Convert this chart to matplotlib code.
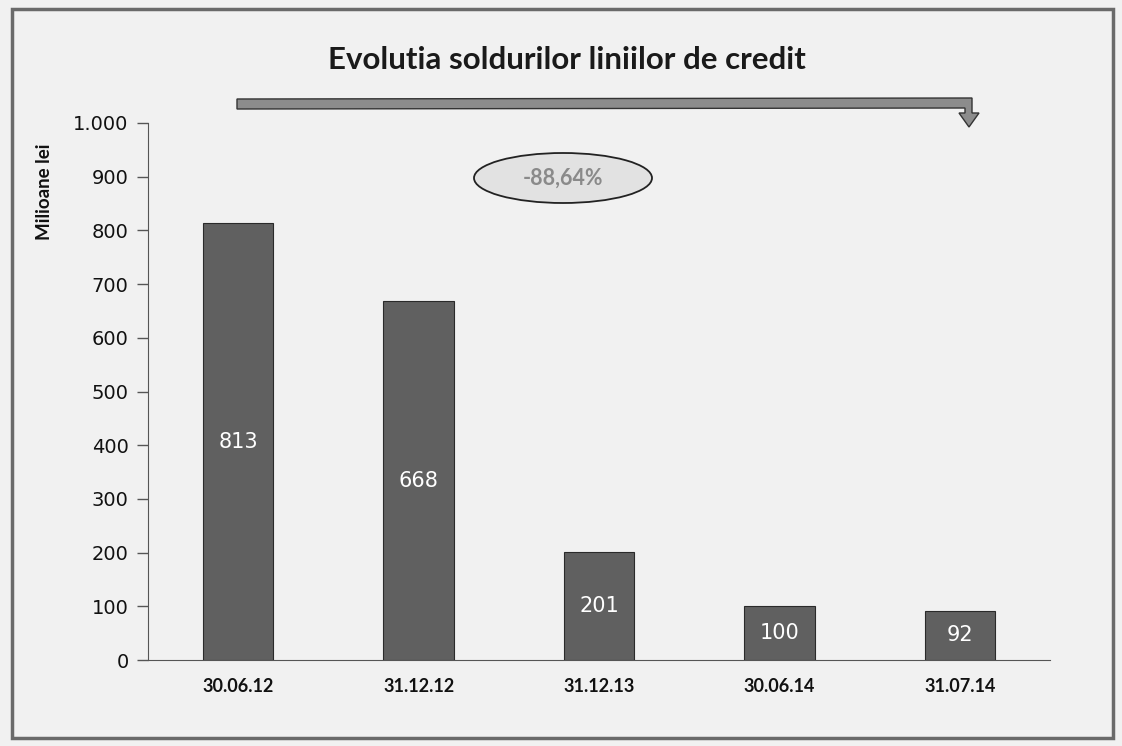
import matplotlib
matplotlib.use("Agg")
import matplotlib.pyplot as plt
from matplotlib.patches import Ellipse, Rectangle, Polygon

categories = ["30.06.12", "31.12.12", "31.12.13", "30.06.14", "31.07.14"]
values = [813, 668, 201, 100, 92]
value_labels = ["813", "668", "201", "100", "92"]
yticks = [0, 100, 200, 300, 400, 500, 600, 700, 800, 900, 1000]
ytick_labels = ["0", "100", "200", "300", "400", "500", "600", "700", "800", "900", "1.000"]
title = "Evolutia soldurilor liniilor de credit"
ylabel = "Milioane lei"
change_label = "-88,64%"

W, H = 1122, 746
fig = plt.figure(figsize=(W / 100, H / 100), dpi=100, facecolor="#f1f1f1")

ax = fig.add_axes([148 / W, 1 - 660 / H, (1050 - 148) / W, (660 - 123) / H])
ax.set_facecolor("none")
x = list(range(len(categories)))
ax.bar(x, values, width=0.39, color="#606060", edgecolor="#2a2a2a", linewidth=0.8, zorder=3)
ax.set_xlim(-0.5, len(categories) - 0.5)
ax.set_ylim(0, 1000)
ax.set_yticks(yticks)
ax.set_yticklabels(ytick_labels, fontsize=14, family="DejaVu Sans", color="#111111")
ax.set_xticks(x)
ax.set_xticklabels(categories, fontsize=13, fontweight="bold", family="Lato", color="#111111")
ax.tick_params(axis="x", length=0, pad=13)
ax.tick_params(axis="y", length=8, width=1, color="#555555", pad=6)
for s in ["top", "right"]:
    ax.spines[s].set_visible(False)
ax.spines["left"].set_color("#555555")
ax.spines["bottom"].set_color("#555555")

for xi, v, lab in zip(x, values, value_labels):
    ax.text(xi, v / 2, lab, ha="center", va="center", color="white",
            fontsize=15, family="DejaVu Sans", zorder=4)

ov2 = fig.add_axes([0, 0, 1, 1], zorder=5)
ov2.set_xlim(0, W)
ov2.set_ylim(H, 0)
ov2.axis("off")
ov2.patch.set_alpha(0)

# frame
ov2.add_patch(Rectangle((12, 9), 1101, 729, fill=False, edgecolor="#6a6a6a", linewidth=2.5))

# title
ov2.text(567, 60, title, ha="center", va="center", fontsize=22.5, fontweight="bold",
         family="Lato", color="#1a1a1a")

# bent arrow
arrow = Polygon([(237, 99), (972, 98), (972, 113), (979, 113), (969, 127),
                 (959, 113), (965, 113), (965, 108), (237, 109)],
                closed=True, facecolor="#8c8c8c", edgecolor="#333333", linewidth=1)
ov2.add_patch(arrow)

# ellipse with percentage
ov2.add_patch(Ellipse((563, 178), 178, 50, facecolor="#e2e2e2", edgecolor="#222222", linewidth=1.3))
ov2.text(563, 178, change_label, ha="center", va="center", fontsize=15.5, fontweight="bold",
         family="Lato", color="#8a8a8a")

# y label
fig.text(45 / W, 1 - 192 / H, ylabel, rotation=90, ha="center", va="center",
         fontsize=13.5, fontweight="bold", family="Lato", color="#111111")

fig.savefig("out.png", dpi=100, facecolor=fig.get_facecolor())
